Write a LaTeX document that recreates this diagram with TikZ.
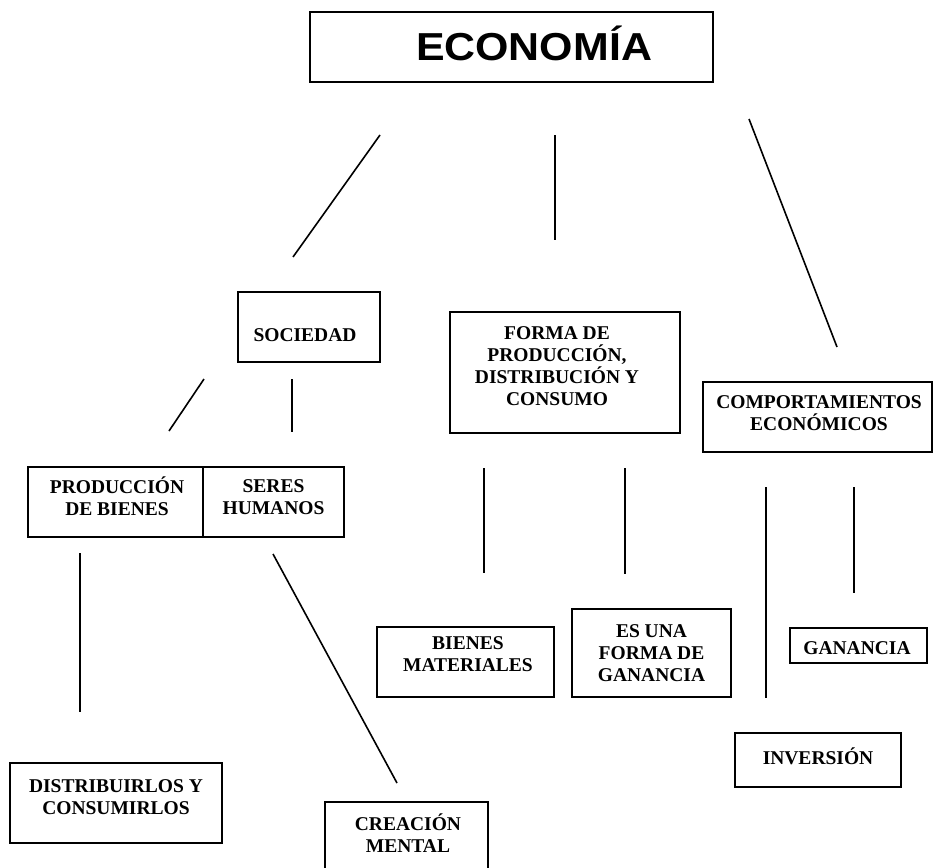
\documentclass[tikz,border=0pt]{standalone}
\usepackage{fontspec}
\setmainfont{Liberation Serif}
\newfontfamily\econfont[FakeStretch=1.1]{Liberation Sans}
\tikzset{
  box/.style={draw, line width=1.5pt, inner sep=0pt},
  txt/.style={font=\fontsize{19.5}{22}\selectfont\bfseries, align=center, inner sep=0pt},
  link/.style={line width=1.6pt}
}

\begin{document}
\begin{tikzpicture}[x=1pt,y=-1pt]
\useasboundingbox (0,0) rectangle (933,867);
\clip (0,0) rectangle (933,867);

% boxes
\node[box, minimum width=403pt, minimum height=70pt,
      label={[xshift=22.5pt, yshift=4pt, inner sep=0pt, font=\fontsize{39}{41}\econfont\bfseries]center:ECONOMÍA}]
      (econ) at (511.5,47) {};
\node[box, minimum width=142pt, minimum height=70pt,
      label={[txt, xshift=-4pt, yshift=-8pt]center:SOCIEDAD}] (soc) at (309,327) {};
\node[box, minimum width=230pt, minimum height=121pt,
      label={[txt, xshift=-8pt, yshift=6pt]center:FORMA DE\\PRODUCCIÓN,\\DISTRIBUCIÓN Y\\CONSUMO}] (forma) at (565,372.5) {};
\node[box, minimum width=229pt, minimum height=70pt,
      label={[txt, xshift=1.5pt, yshift=4pt]center:COMPORTAMIENTOS\\ECONÓMICOS}] (comp) at (817.5,417) {};
\node[box, minimum width=175pt, minimum height=70pt,
      label={[txt, xshift=1.5pt, yshift=6pt]center:PRODUCCIÓN\\DE BIENES}] (prod) at (115.5,502) {};
\node[box, minimum width=141pt, minimum height=70pt,
      label={[txt, yshift=5pt]center:SERES\\HUMANOS}] (seres) at (273.5,502) {};
\node[box, minimum width=177pt, minimum height=70pt,
      label={[txt, xshift=2.5pt, yshift=8pt]center:BIENES\\MATERIALES}] (bienes) at (465.5,662) {};
\node[box, minimum width=159pt, minimum height=88pt,
      label={[txt]center:ES UNA\\FORMA DE\\GANANCIA}] (esuna) at (651.5,653) {};
\node[box, minimum width=137pt, minimum height=35pt,
      label={[txt, xshift=-1.5pt, yshift=-2.5pt]center:GANANCIA}] (gan) at (858.5,645.5) {};
\node[box, minimum width=166pt, minimum height=54pt,
      label={[txt, yshift=4pt]center:INVERSIÓN}] (inv) at (818,760) {};
\node[box, minimum width=212pt, minimum height=80pt,
      label={[txt, yshift=6pt]center:DISTRIBUIRLOS Y\\CONSUMIRLOS}] (dist) at (116,803) {};
\node[box, minimum width=163pt, minimum height=88pt,
      label={[txt, xshift=1.5pt, yshift=13pt]center:CREACIÓN\\MENTAL}] (crea) at (406.5,846) {};

% loose lines
\coordinate (econ-soc-a) at (380,135);   \coordinate (econ-soc-b) at (293,257);
\coordinate (econ-forma-a) at (555,135); \coordinate (econ-forma-b) at (555,240);
\coordinate (econ-comp-a) at (749,119);  \coordinate (econ-comp-b) at (837,347);
\coordinate (soc-prod-a) at (204,379);   \coordinate (soc-prod-b) at (169,431);
\coordinate (soc-seres-a) at (292,379);  \coordinate (soc-seres-b) at (292,432);
\coordinate (prod-dist-a) at (80,553);   \coordinate (prod-dist-b) at (80,712);
\coordinate (seres-crea-a) at (273,554); \coordinate (seres-crea-b) at (397,783);
\coordinate (forma-bienes-a) at (484,468); \coordinate (forma-bienes-b) at (484,573);
\coordinate (forma-esuna-a) at (625,468);  \coordinate (forma-esuna-b) at (625,574);
\coordinate (comp-inv-a) at (766,487);   \coordinate (comp-inv-b) at (766,698);
\coordinate (comp-gan-a) at (854,487);   \coordinate (comp-gan-b) at (854,593);

\draw[link] (econ-soc-a) -- (econ-soc-b);
\draw[link] (econ-forma-a) -- (econ-forma-b);
\draw[link] (econ-comp-a) -- (econ-comp-b);
\draw[link] (soc-prod-a) -- (soc-prod-b);
\draw[link] (soc-seres-a) -- (soc-seres-b);
\draw[link] (prod-dist-a) -- (prod-dist-b);
\draw[link] (seres-crea-a) -- (seres-crea-b);
\draw[link] (forma-bienes-a) -- (forma-bienes-b);
\draw[link] (forma-esuna-a) -- (forma-esuna-b);
\draw[link] (comp-inv-a) -- (comp-inv-b);
\draw[link] (comp-gan-a) -- (comp-gan-b);
\end{tikzpicture}
\end{document}
